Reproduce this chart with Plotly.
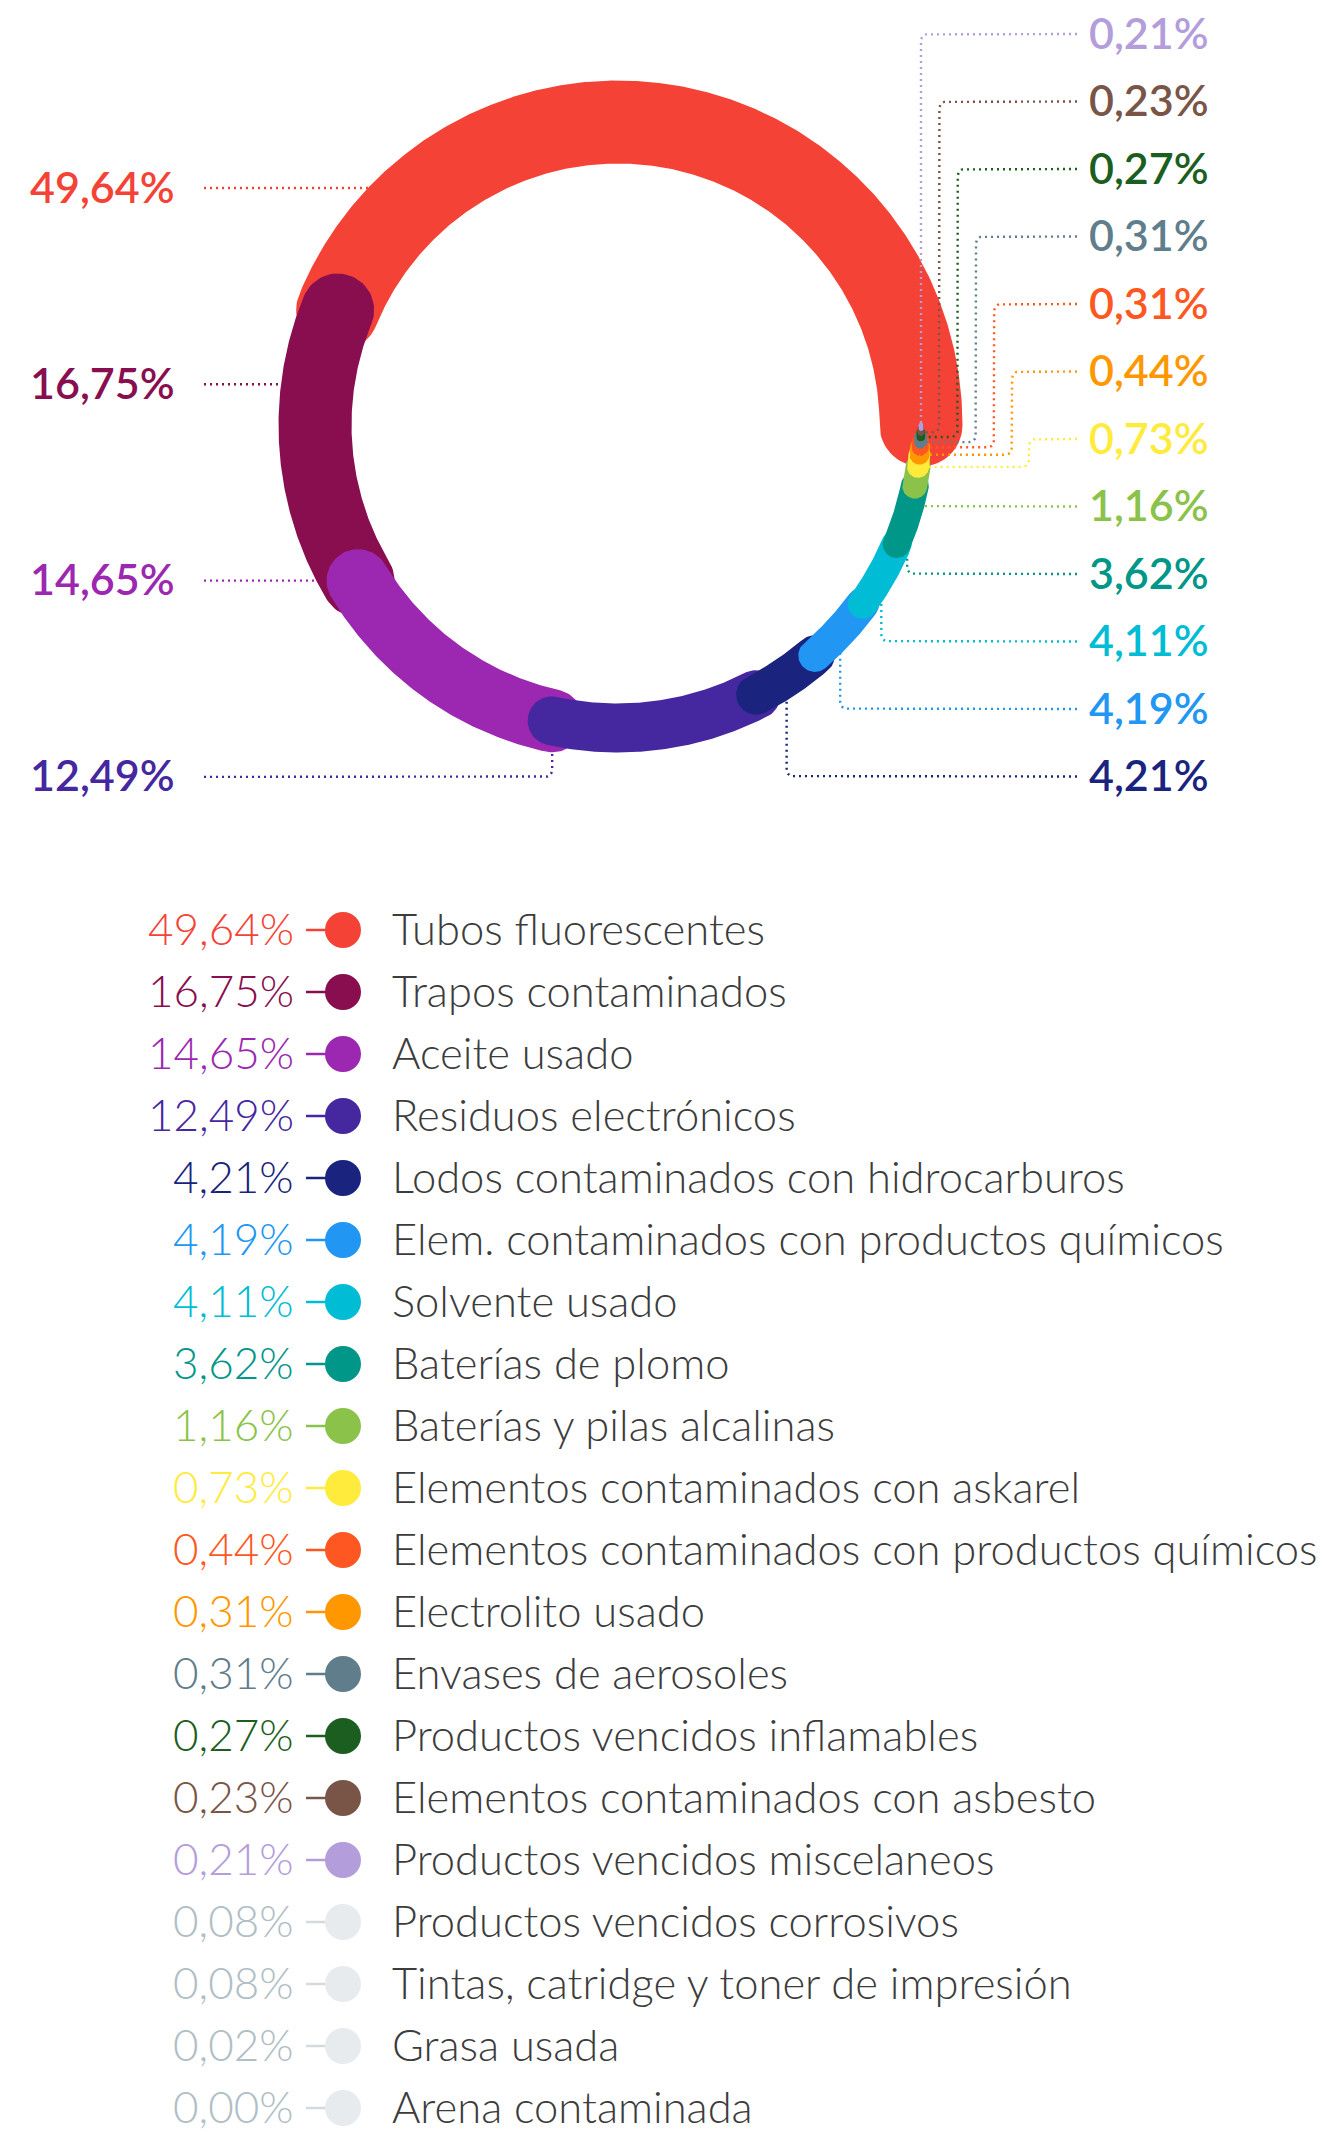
import numpy as np
import plotly.graph_objects as go

# ---- data -------------------------------------------------------------
# ring segments, counter-clockwise from 3 o'clock
ring_pct = [49.64, 16.75, 14.65, 12.49, 4.21, 4.19, 4.11, 3.62, 1.16, 0.73, 0.44, 0.31, 0.31, 0.27, 0.23, 0.21]
ring_colors = ["#F44336", "#880E4F", "#9C27B0", "#4527A0", "#1A237E", "#2196F3", "#00BCD4", "#009688",
               "#8BC34A", "#FFEB3B", "#FF9800", "#FF5722", "#607D8B", "#1B5E20", "#795548", "#B39DDB"]

# legend rows, top to bottom
legend_pct = [49.64, 16.75, 14.65, 12.49, 4.21, 4.19, 4.11, 3.62, 1.16, 0.73, 0.44, 0.31, 0.31, 0.27, 0.23, 0.21,
              0.08, 0.08, 0.02, 0.00]
legend_names = ["Tubos fluorescentes", "Trapos contaminados", "Aceite usado", "Residuos electrónicos",
                "Lodos contaminados con hidrocarburos", "Elem. contaminados con productos químicos",
                "Solvente usado", "Baterías de plomo", "Baterías y pilas alcalinas",
                "Elementos contaminados con askarel", "Elementos contaminados con productos químicos",
                "Electrolito usado", "Envases de aerosoles", "Productos vencidos inflamables",
                "Elementos contaminados con asbesto", "Productos vencidos miscelaneos",
                "Productos vencidos corrosivos", "Tintas, catridge y toner de impresión", "Grasa usada",
                "Arena contaminada"]
legend_colors = ["#F44336", "#880E4F", "#9C27B0", "#4527A0", "#1A237E", "#2196F3", "#00BCD4", "#009688",
                 "#8BC34A", "#FFEB3B", "#FF5722", "#FF9800", "#607D8B", "#1B5E20", "#795548", "#B39DDB",
                 "#E8EBEE", "#E8EBEE", "#E8EBEE", "#E8EBEE"]
legend_pct_colors = legend_colors[:16] + ["#B0BEC5"] * 4

# ---- layout settings ----------------------------------------------------
W, H = 1327, 2135
OFF = 8  # page body margin, so the axis is shifted to keep page pixels = data units
CX, CY, R = 618, 425, 303
ring_widths = [83, 73, 63, 49, 40, 33, 30, 28, 25, 22, 20, 17, 13, 9, 7, 5]
LABEL_FONT = dict(family="Lato, Inter, sans-serif", size=43, weight=600)
THIN_FONT = "Lato, Roboto, sans-serif"


def fmt(v):
    return f"{v:.2f}".replace(".", ",") + "%"


def pt(theta, r):
    a = np.radians(theta)
    return CX + r * np.cos(a), CY - r * np.sin(a)


def band(t0, t1, w):
    h = w / 2
    t = np.radians(np.linspace(t0, t1, max(int(abs(t1 - t0) * 3), 6)))
    ox, oy = CX + (R + h) * np.cos(t), CY - (R + h) * np.sin(t)
    ix, iy = CX + (R - h) * np.cos(t[::-1]), CY - (R - h) * np.sin(t[::-1])

    def cap(a, phi):
        ex, ey = CX + R * np.cos(a), CY - R * np.sin(a)
        u = np.array([np.cos(a), -np.sin(a)])
        tv = np.array([-np.sin(a), -np.cos(a)])
        return (ex + h * (np.cos(phi) * u[0] + np.sin(phi) * tv[0]),
                ey + h * (np.cos(phi) * u[1] + np.sin(phi) * tv[1]))

    c1x, c1y = cap(t[-1], np.linspace(0, np.pi, 40))
    c0x, c0y = cap(t[0], np.linspace(np.pi, 2 * np.pi, 40))
    xs = np.concatenate([ox, c1x, ix, c0x])
    ys = np.concatenate([oy, c1y, iy, c0y])
    return xs, ys


def rounded(points, r=8, n=10):
    pts = [np.array(points[0], float)]
    for p in points[1:]:
        p = np.array(p, float)
        if np.linalg.norm(p - pts[-1]) > 0.5:
            pts.append(p)
    xs, ys = [pts[0][0]], [pts[0][1]]
    for i in range(1, len(pts) - 1):
        a, b, c = pts[i - 1], pts[i], pts[i + 1]
        d1 = (b - a) / np.linalg.norm(b - a)
        d2 = (c - b) / np.linalg.norm(c - b)
        rr = min(r, np.linalg.norm(b - a) / 2, np.linalg.norm(c - b) / 2)
        p0, p1 = b - d1 * rr, b + d2 * rr
        s = np.linspace(0, 1, n)[:, None]
        q = (1 - s) ** 2 * p0 + 2 * (1 - s) * s * b + s ** 2 * p1
        xs += list(q[:, 0])
        ys += list(q[:, 1])
    xs.append(pts[-1][0])
    ys.append(pts[-1][1])
    return xs, ys


def dotted(xs, ys, color):
    return go.Scatter(x=xs, y=ys, mode="lines", hoverinfo="skip", showlegend=False,
                      line=dict(color=color, width=2.4, dash="2px,4px"))


fig = go.Figure()

total = sum(ring_pct)
cum = np.concatenate([[0], np.cumsum(ring_pct)])
t_start = 360 * cum[:-1] / total
t_end = 360 * cum[1:] / total
t_mid = (t_start + t_end) / 2

annotations = []

# ---- leader lines under the ring (left side and lower right) ------------
left_idx = [0, 1, 2, 3]
left_y = [188 + 196.3 * k for k in range(4)]
right_idx = list(range(15, 3, -1))
right_y = [34 + 67.5 * k for k in range(12)]
tip_lines = []

for i, ly in zip(left_idx, left_y):
    dy = ly - CY
    if abs(dy) < R:
        pts = [(204, ly), (CX - np.sqrt(R ** 2 - dy ** 2), ly)]
    else:
        ax, ay = pt(t_start[i], R)
        pts = [(204, ly), (ax, ly), (ax, ay)]
    fig.add_trace(dotted(*rounded(pts), ring_colors[i]))
    annotations.append(dict(x=177, y=ly - 2, text=fmt(ring_pct[i]), xanchor="right", yanchor="middle",
                            font=dict(color=ring_colors[i], **LABEL_FONT)))

k_tip = 0
for i, ly in zip(right_idx, right_y):
    sx, sy = pt(t_start[i], R)
    if ly < sy:
        xv = sx + 18.5 * k_tip
        k_tip += 1
        pts = [(1077, ly), (xv, ly), (xv, sy), (sx, sy)]
        tip_lines.append((pts, ring_colors[i]))
    else:
        mx, my = pt(t_mid[i], R)
        pts = [(1077, ly), (mx, ly), (mx, my)]
        fig.add_trace(dotted(*rounded(pts), ring_colors[i]))
    annotations.append(dict(x=1087, y=ly - 2, text=fmt(ring_pct[i]), xanchor="left", yanchor="middle",
                            font=dict(color=ring_colors[i], **LABEL_FONT)))

# ---- ring segments, each with round caps, later ones on top -------------
for i in range(len(ring_pct)):
    xs, ys = band(t_start[i], t_end[i], ring_widths[i])
    fig.add_trace(go.Scatter(x=xs, y=ys, mode="lines", fill="toself", fillcolor=ring_colors[i],
                             line=dict(width=0, color=ring_colors[i]), hoverinfo="skip", showlegend=False))

# leader lines of the small slices run over the red arc
for pts, col in tip_lines:
    fig.add_trace(dotted(*rounded(pts), col))

# ---- legend -------------------------------------------------------------
row_y = [930 + 62 * k for k in range(len(legend_pct))]
for k in range(len(legend_pct)):
    y = row_y[k]
    dash_col = legend_colors[k] if k < 16 else "#D3D9DD"
    fig.add_trace(go.Scatter(x=[306, 330], y=[y, y], mode="lines", hoverinfo="skip", showlegend=False,
                             line=dict(color=dash_col, width=2.5)))
fig.add_trace(go.Scatter(x=[343] * len(legend_pct), y=row_y, mode="markers", hoverinfo="skip",
                         showlegend=False, marker=dict(size=36, color=legend_colors, line=dict(width=0))))
for k in range(len(legend_pct)):
    annotations.append(dict(x=296, y=row_y[k] - 2, text=fmt(legend_pct[k]), xanchor="right", yanchor="middle",
                            font=dict(family=THIN_FONT, size=44, weight=300, color=legend_pct_colors[k])))
    annotations.append(dict(x=390, y=row_y[k] - 2, text=legend_names[k], xanchor="left", yanchor="middle",
                            font=dict(family=THIN_FONT, size=43.5, weight=300, color="#3C3C3C")))

for a in annotations:
    a.update(xref="x", yref="y", showarrow=False)

fig.update_layout(
    width=W, height=H,
    margin=dict(l=0, r=0, t=0, b=0),
    paper_bgcolor="#ffffff", plot_bgcolor="#ffffff",
    xaxis=dict(range=[OFF, W + OFF], visible=False, fixedrange=True),
    yaxis=dict(range=[H + OFF, OFF], visible=False, fixedrange=True),
    annotations=annotations,
    showlegend=False,
)

fig.write_html("out.html")
